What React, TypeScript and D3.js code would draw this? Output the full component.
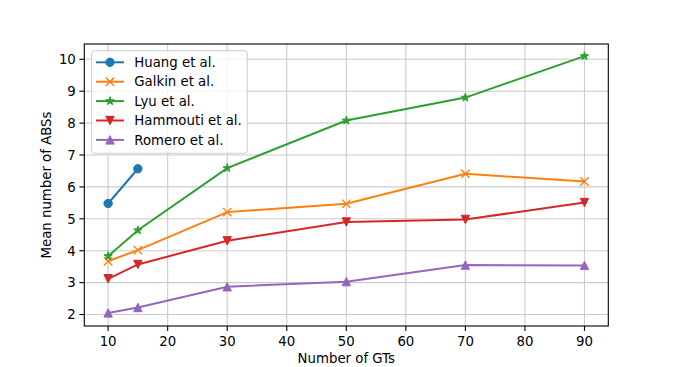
import React from "react";
import * as d3 from "d3";

const gts = [10, 15, 30, 50, 70, 90];
const huang = [5.48, 6.57];
const galkin = [3.67, 4.02, 5.21, 5.47, 6.41, 6.17];
const lyu = [3.83, 4.64, 6.59, 8.08, 8.8, 10.1];
const hammouti = [3.12, 3.57, 4.31, 4.9, 4.98, 5.51];
const romero = [2.05, 2.22, 2.87, 3.03, 3.55, 3.54];
const xTicks = [10, 20, 30, 40, 50, 60, 70, 80, 90];
const yTicks = [2, 3, 4, 5, 6, 7, 8, 9, 10];

const series = [
  { name: "Huang et al.", values: huang, color: "#1f77b4", marker: "circle" },
  { name: "Galkin et al.", values: galkin, color: "#ff7f0e", marker: "x" },
  { name: "Lyu et al.", values: lyu, color: "#2ca02c", marker: "star" },
  { name: "Hammouti et al.", values: hammouti, color: "#d62728", marker: "down" },
  { name: "Romero et al.", values: romero, color: "#9467bd", marker: "up" },
];

const W = 676;
const H = 367;
const m = { left: 84.3, right: 608.3, top: 44, bottom: 326 };
const font = "DejaVu Sans, sans-serif";

function starPath(r: number) {
  const pts: string[] = [];
  for (let i = 0; i < 10; i++) {
    const a = (i * Math.PI) / 5;
    const rr = i % 2 === 0 ? r : r * 0.381966;
    pts.push(`${rr * Math.sin(a)},${-rr * Math.cos(a)}`);
  }
  return "M" + pts.join("L") + "Z";
}

function Marker({ kind, x, y, color }: { kind: string; x: number; y: number; color: string }) {
  const r = 4.2;
  if (kind === "circle")
    return <circle cx={x} cy={y} r={r} fill={color} stroke={color} strokeWidth={1} />;
  if (kind === "x")
    return (
      <path
        d={`M${x - r},${y - r}L${x + r},${y + r}M${x - r},${y + r}L${x + r},${y - r}`}
        stroke={color}
        strokeWidth={1.4}
        fill="none"
      />
    );
  if (kind === "star")
    return (
      <path transform={`translate(${x},${y})`} d={starPath(r * 1.05)} fill={color} stroke={color} strokeWidth={1} />
    );
  if (kind === "down")
    return (
      <path d={`M${x},${y + r}L${x - r},${y - r}L${x + r},${y - r}Z`} fill={color} stroke={color} strokeWidth={1} />
    );
  return <path d={`M${x},${y - r}L${x - r},${y + r}L${x + r},${y + r}Z`} fill={color} stroke={color} strokeWidth={1} />;
}

export default function App() {
  const x = d3.scaleLinear().domain([6, 94]).range([m.left, m.right]);
  const y = d3.scaleLinear().domain([1.64, 10.48]).range([m.bottom, m.top]);
  const line = d3
    .line<[number, number]>()
    .x((d) => x(d[0]))
    .y((d) => y(d[1]));

  return (
    <svg width={W} height={H} style={{ position: "absolute", left: 0, top: 0 }} fontFamily={font}>
      <rect width={W} height={H} fill="white" />
      {/* grid */}
      <g stroke="#cbcbcb" strokeWidth={1.1}>
        {xTicks.map((t) => (
          <line key={"gx" + t} x1={x(t)} x2={x(t)} y1={m.top} y2={m.bottom} />
        ))}
        {yTicks.map((t) => (
          <line key={"gy" + t} x1={m.left} x2={m.right} y1={y(t)} y2={y(t)} />
        ))}
      </g>
      {/* series */}
      {series.map((s) => {
        const pts = s.values.map((v, i) => [gts[i], v] as [number, number]);
        return (
          <g key={s.name}>
            <path d={line(pts) || ""} fill="none" stroke={s.color} strokeWidth={2} />
            {pts.map((p, i) => (
              <Marker key={i} kind={s.marker} x={x(p[0])} y={y(p[1])} color={s.color} />
            ))}
          </g>
        );
      })}
      {/* frame */}
      <rect
        x={m.left}
        y={m.top}
        width={m.right - m.left}
        height={m.bottom - m.top}
        fill="none"
        stroke="black"
        strokeWidth={1.1}
      />
      {/* axes */}
      <g fontSize={13.3} fill="#000">
        {xTicks.map((t) => (
          <g key={"xt" + t}>
            <line x1={x(t)} x2={x(t)} y1={m.bottom} y2={m.bottom + 4.9} stroke="black" strokeWidth={1.1} />
            <text x={x(t)} y={m.bottom + 19.8} textAnchor="middle">
              {t}
            </text>
          </g>
        ))}
        {yTicks.map((t) => (
          <g key={"yt" + t}>
            <line x1={m.left - 4.9} x2={m.left} y1={y(t)} y2={y(t)} stroke="black" strokeWidth={1.1} />
            <text x={m.left - 8.5} y={y(t)} dy="0.36em" textAnchor="end">
              {t}
            </text>
          </g>
        ))}
        <text x={(m.left + m.right) / 2} y={363} textAnchor="middle">
          Number of GTs
        </text>
        <text transform={`translate(51,${(m.top + m.bottom) / 2}) rotate(-90)`} textAnchor="middle">
          Mean number of ABSs
        </text>
      </g>
      {/* legend */}
      <g>
        <rect x={91.7} y={50.7} width={155.6} height={102.6} rx={3} fill="white" fillOpacity={0.8} stroke="#cccccc" />
        {series.map((s, i) => {
          const ly = 62.3 + i * 19.4;
          return (
            <g key={"lg" + s.name}>
              <line x1={96} x2={124} y1={ly} y2={ly} stroke={s.color} strokeWidth={2} />
              <Marker kind={s.marker} x={110} y={ly} color={s.color} />
              <text x={134.3} y={ly} dy="0.36em" fontSize={13.3}>
                {s.name}
              </text>
            </g>
          );
        })}
      </g>
    </svg>
  );
}
